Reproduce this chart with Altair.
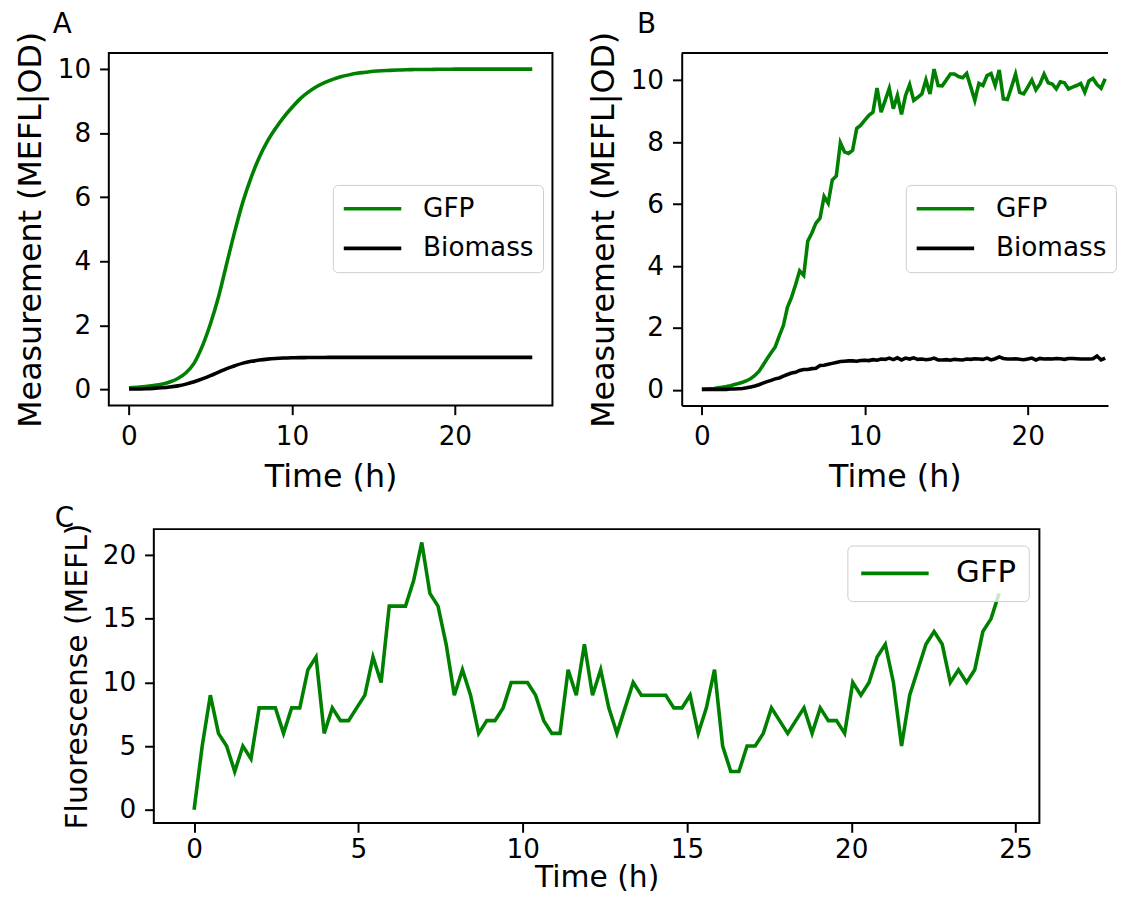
import altair as alt
import pandas as pd

FONT = "DejaVu Sans"
GREEN = "#008000"

# ---------------- Panel A (smooth model curves) ----------------
time_a = [i * 0.5 for i in range(50)] + [24.75]
gfp_a = [0.05, 0.07, 0.09, 0.12, 0.16, 0.23, 0.34, 0.52, 0.82, 1.35,
         2.05, 2.9, 3.93, 4.95, 5.87, 6.62, 7.25, 7.75, 8.15, 8.5,
         8.8, 9.07, 9.28, 9.45, 9.58, 9.68, 9.76, 9.82, 9.87, 9.9,
         9.93, 9.95, 9.96, 9.97, 9.98, 9.985, 9.99, 9.99, 9.995, 9.995,
         10.0, 10.0, 10.0, 10.0, 10.0, 10.0, 10.0, 10.0, 10.0, 10.0,
         10.0]
bio_a = [0.01, 0.013, 0.02, 0.032, 0.05, 0.075, 0.11, 0.165, 0.24, 0.33,
         0.43, 0.54, 0.65, 0.74, 0.82, 0.875, 0.915, 0.945, 0.965, 0.978,
         0.986, 0.991, 0.994, 0.996, 0.998, 0.999, 0.999, 1.0, 1.0, 1.0,
         1.0, 1.0, 1.0, 1.0, 1.0, 1.0, 1.0, 1.0, 1.0, 1.0,
         1.0, 1.0, 1.0, 1.0, 1.0, 1.0, 1.0, 1.0, 1.0, 1.0,
         1.0]

# ---------------- Panel B (noisy measurements) ----------------
time_b = [i * 0.25 for i in range(100)]
gfp_b = [0.02, 0.03, 0.04, 0.05, 0.07, 0.09, 0.11, 0.14,
         0.18, 0.21, 0.25, 0.30, 0.37, 0.47, 0.60, 0.80,
         1.01, 1.20, 1.39, 1.75, 2.08, 2.67, 2.99, 3.40,
         3.85, 3.70, 4.81, 5.07, 5.39, 5.55, 6.25, 6.03,
         6.78, 6.91, 7.98, 7.69, 7.64, 7.74, 8.44, 8.55,
         8.71, 8.87, 8.97, 9.75, 8.97, 9.35, 9.74, 9.08,
         9.51, 8.90, 9.51, 9.86, 9.35, 9.45, 9.56, 10.01,
         9.56, 10.36, 9.83, 9.82, 10.01, 10.20, 10.20, 10.12,
         10.08, 10.22, 9.78, 9.35, 9.90, 9.83, 10.15, 10.22,
         9.83, 10.33, 9.40, 9.38, 9.78, 10.20, 9.61, 9.56,
         9.78, 10.01, 9.69, 9.88, 10.20, 9.92, 9.88, 9.72,
         9.95, 9.92, 9.72, 9.78, 9.83, 9.90, 9.61, 9.98,
         10.06, 9.86, 9.74, 10.05]
bio_b = [0.02, 0.02, 0.02, 0.02, 0.02, 0.02, 0.02, 0.03, 0.03,
         0.04, 0.05, 0.07, 0.10, 0.13, 0.17, 0.22, 0.27,
         0.31, 0.36, 0.39, 0.45, 0.50, 0.55, 0.57, 0.63,
         0.66, 0.66, 0.69, 0.70, 0.79, 0.80, 0.83, 0.86,
         0.89, 0.92, 0.93, 0.94, 0.94, 0.93, 0.95, 0.96,
         0.95, 0.98, 0.96, 1.00, 0.99, 1.03, 0.98, 1.04,
         0.97, 1.03, 1.00, 1.04, 0.99, 1.00, 0.98, 0.99,
         1.03, 0.97, 0.97, 0.98, 0.96, 0.99, 0.98, 0.97,
         1.00, 0.99, 1.01, 1.00, 0.99, 1.03, 0.97, 1.01,
         1.07, 1.02, 1.00, 1.00, 1.01, 0.99, 0.98, 1.00,
         1.03, 0.97, 1.02, 1.00, 1.01, 1.00, 1.02, 1.01,
         0.99, 1.02, 1.02, 1.01, 1.00, 1.00, 1.00, 1.01,
         1.10, 0.97, 1.03]

# ---------------- Panel C (single noisy fluorescence trace) ----------------
time_c = [round(i * 24.5 / 99, 4) for i in range(100)]
gfp_c = [0, 5, 9, 6, 5, 3, 5, 4, 8, 8,
         8, 6, 8, 8, 11, 12, 6, 8, 7, 7,
         8, 9, 12, 10, 16, 16, 16, 18, 21, 17,
         16, 13, 9, 11, 9, 6, 7, 7, 8, 10,
         10, 10, 9, 7, 6, 6, 11, 9, 13, 9,
         11, 8, 6, 8, 10, 9, 9, 9, 9, 8,
         8, 9, 6, 8, 11, 5, 3, 3, 5, 5,
         6, 8, 7, 6, 7, 8, 6, 8, 7, 7,
         6, 10, 9, 10, 12, 13, 10, 5, 9, 11,
         13, 14, 13, 10, 11, 10, 11, 14, 15, 17]

series_names = ["GFP", "Biomass"]
series_colors = [GREEN, "black"]
panel_letters = ["A", "B", "C"]

ticks_ab_x = [0, 10, 20]
ticks_ab_y = [0, 2, 4, 6, 8, 10]
ticks_c_x = [0, 5, 10, 15, 20, 25]
ticks_c_y = [0, 5, 10, 15, 20]

df_a = pd.DataFrame({"t": time_a + time_a, "v": gfp_a + bio_a,
                     "s": ["GFP"] * len(time_a) + ["Biomass"] * len(time_a)})
df_b = pd.DataFrame({"t": time_b + time_b, "v": gfp_b + bio_b,
                     "s": ["GFP"] * len(time_b) + ["Biomass"] * len(time_b)})
df_c = pd.DataFrame({"t": time_c, "v": gfp_c, "s": ["GFP"] * len(time_c)})

LW = 3.6
PX_PER_H = 447.5 / 27.225  # same time scale in panels A and B


def ax(values, title, lfs=26.5, tfs=32, lpad=9, tpad=12, tick=9.3, domain=False):
    return alt.Axis(values=values, title=title, grid=False, domain=domain,
                    domainColor="black", domainWidth=2,
                    tickColor="black", tickWidth=2, tickSize=tick,
                    labelFont=FONT, labelFontSize=lfs, labelColor="black",
                    labelPadding=lpad, labelFlush=False, labelOverlap=False,
                    titleFont=FONT, titleFontSize=tfs, titleFontWeight="normal",
                    titleColor="black", titlePadding=tpad, format="d")


def legend(x, y, pad, size, offset, fs, clip):
    return alt.Legend(title=None, orient="none", legendX=x, legendY=y,
                      fillColor="rgba(255,255,255,0.8)", strokeColor="#cccccc",
                      cornerRadius=5, padding=pad, symbolType="stroke",
                      symbolSize=size, symbolStrokeWidth=LW, clipHeight=clip,
                      rowPadding=10, labelOffset=offset, labelFontSize=fs,
                      labelFont=FONT, labelColor="black")


def letter(ch, dx, dy):
    return alt.Chart(pd.DataFrame({"lab": [ch]})).mark_text(
        font=FONT, fontSize=28, align="left", baseline="alphabetic", color="black"
    ).encode(text="lab:N", x=alt.value(dx), y=alt.value(dy))


W_A, H_AB = 447.5, 355.4
W_B = 430.0  # panel B runs off the right edge of the figure, as in the original
B_MAX = -1.2375 + W_B / PX_PER_H

line_a = alt.Chart(df_a).mark_line(strokeWidth=LW, interpolate="monotone").encode(
    x=alt.X("t:Q", scale=alt.Scale(domain=[-1.2375, 25.9875], nice=False, zero=False),
            axis=ax(ticks_ab_x, "Time (h)")),
    y=alt.Y("v:Q", scale=alt.Scale(domain=[-0.5, 10.5], nice=False, zero=False),
            axis=ax(ticks_ab_y, "Measurement (MEFL|OD)", tpad=10)),
    color=alt.Color("s:N", scale=alt.Scale(domain=series_names, range=series_colors),
                    legend=legend(226, 133, 9, 3364, 20, 26.5, 30)),
)
chart_a = alt.layer(line_a, letter(panel_letters[0], -56.6, -20)).properties(
    width=W_A, height=H_AB)

line_b = alt.Chart(df_b).mark_line(strokeWidth=LW).encode(
    x=alt.X("t:Q", scale=alt.Scale(domain=[-1.2375, B_MAX], nice=False, zero=False),
            axis=ax(ticks_ab_x, "Time (h)", domain=True)),
    y=alt.Y("v:Q", scale=alt.Scale(domain=[-0.497, 10.877], nice=False, zero=False),
            axis=ax(ticks_ab_y, "Measurement (MEFL|OD)", tpad=10, domain=True)),
    color=alt.Color("s:N", scale=alt.Scale(domain=series_names, range=series_colors),
                    legend=legend(226, 133, 9, 3364, 20, 26.5, 30)),
)
top_edge_b = alt.Chart(pd.DataFrame({"z": [0]})).mark_rule(
    color="black", strokeWidth=2).encode(x=alt.value(0), x2=alt.value(W_B), y=alt.value(0))
chart_b = alt.layer(line_b, top_edge_b, letter(panel_letters[1], -45, -20)).properties(
    width=W_B, height=H_AB, view=alt.ViewBackground(stroke="transparent"))

line_c = alt.Chart(df_c).mark_line(strokeWidth=LW).encode(
    x=alt.X("t:Q", scale=alt.Scale(domain=[-1.225, 25.725], nice=False, zero=False),
            axis=ax(ticks_c_x, "Time (h)", tfs=30, lpad=4, tpad=0)),
    y=alt.Y("v:Q", scale=alt.Scale(domain=[-1.05, 22.05], nice=False, zero=False),
            axis=ax(ticks_c_y, "Fluorescense (MEFL)", tfs=30, tpad=10)),
    color=alt.Color("s:N", scale=alt.Scale(domain=["GFP"], range=[GREEN]),
                    legend=legend(699.6, 16.6, 12, 4624, 25.7, 31, 32)),
)
chart_c = alt.layer(line_c, letter(panel_letters[2], -100, -1.7)).properties(
    width=893.3, height=296.5)

spacer = alt.Chart(pd.DataFrame({"z": [0]})).mark_rect(opacity=0).encode(
    x=alt.value(0), x2=alt.value(1), y=alt.value(0), y2=alt.value(1)
).properties(width=1, height=296.5, view=alt.ViewBackground(stroke="transparent"))

top = alt.hconcat(chart_a, chart_b, spacing=129.9, bounds="flush").resolve_scale(
    color="independent", x="independent", y="independent")
bottom = alt.hconcat(spacer, chart_c, spacing=44.4, bounds="flush").resolve_scale(
    color="independent", x="independent", y="independent")

chart = alt.vconcat(top, bottom, spacing=10.2).resolve_scale(
    color="independent", x="independent", y="independent"
).properties(
    padding={"left": 4.7, "top": -1.4, "right": 0, "bottom": 0},
    background="white",
).configure_view(stroke="black", strokeWidth=2, fill="white")

chart.save("out.html", embed_options={"renderer": "svg", "actions": False})
